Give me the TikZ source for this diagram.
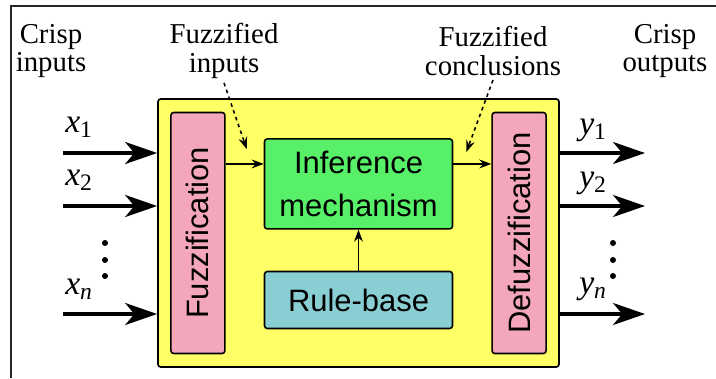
\documentclass[tikz,border=0pt]{standalone}
\usepackage{fontspec}
\setmainfont{Liberation Serif}
\setsansfont{Liberation Sans}
\usepackage{xcolor}
\usepackage{tikz}
\usetikzlibrary{arrows.meta, positioning, calc}

\definecolor{sysyellow}{RGB}{255,255,102}
\definecolor{fuzzpink}{RGB}{244,166,186}
\definecolor{infgreen}{RGB}{88,240,104}
\definecolor{ruleteal}{RGB}{136,206,210}

\begin{document}
\begin{tikzpicture}[
    x=0.25mm, y=-0.25mm,
    sysbox/.style={rectangle, draw, line width=1.2pt, rounded corners=2pt, fill=sysyellow,
                   minimum width=100.25mm, minimum height=67mm, inner sep=0pt},
    stagebox/.style={rectangle, draw, line width=1.1pt, rounded corners=2pt,
                     minimum width=13.5mm, minimum height=60.25mm, inner sep=0pt,
                     font=\sffamily\fontsize{22}{26}\selectfont},
    blockbox/.style={rectangle, draw, line width=1.1pt, rounded corners=2pt,
                     minimum width=47mm, inner sep=0pt, align=center,
                     font=\sffamily\fontsize{22}{30}\selectfont},
    label/.style={font=\fontsize{20.5}{20.5}\selectfont, align=center, inner sep=0pt},
    var/.style={font=\fontsize{24}{24}\selectfont, inner sep=0pt},
    bigarrow/.style={-{Stealth[length=8mm, width=5.5mm, inset=2.3mm]}, line width=2.3pt},
    arrow/.style={-{Stealth[length=3mm, width=2.2mm, inset=1mm]}, line width=1.1pt},
    dasharrow/.style={arrow, dash pattern=on 0.9mm off 0.9mm}
]
\useasboundingbox (0,0) rectangle (716,378);

% frame
\draw[line width=1.4pt, black!85] (11,378) -- (11,6) -- (716,6);

% blocks
\node[sysbox] (sys) at (358.5,233) {};
\node[stagebox, fill=fuzzpink, right=3.25mm of sys.west] (fuzz)
     {\rotatebox{90}{Fuzzification}};
\node[stagebox, fill=fuzzpink, left=3.25mm of sys.east] (defuzz)
     {\rotatebox{90}{Defuzzification}};
\node[blockbox, fill=infgreen, minimum height=22.5mm, below=10mm of sys.north] (infer)
     {Inference\\mechanism};
\node[blockbox, fill=ruleteal, minimum height=14.25mm, below=10.25mm of infer] (rule)
     {Rule-base};

% headings
\node[label] (cin)  at (51,51)  {Crisp\\inputs};
\node[label] (fin)  at (224,51) {Fuzzified\\inputs};
\node[label] (fcon) at (493,51) {Fuzzified\\conclusions};
\node[label] (cout) at (665,51) {Crisp\\outputs};

% crisp inputs
\coordinate (in1) at (63,153);
\coordinate (in2) at (63,206);
\coordinate (inn) at (63,314);
\draw[bigarrow] (in1) -- (in1 -| sys.west);
\draw[bigarrow] (in2) -- (in2 -| sys.west);
\draw[bigarrow] (inn) -- (inn -| sys.west);
\node[var] (x1) at (79,127) {\textit{x}\textsubscript{1}};
\node[var] (x2) at (79,180) {\textit{x}\textsubscript{2}};
\node[var] (xn) at (79,289) {\textit{x}\textsubscript{\textit{n}}};
\foreach \yy in {243,260,276} \fill (105,\yy) circle (3);

% crisp outputs
\coordinate (out1) at (645,153);
\coordinate (out2) at (645,206);
\coordinate (outn) at (645,314);
\draw[bigarrow] (out1 -| sys.east) -- (out1);
\draw[bigarrow] (out2 -| sys.east) -- (out2);
\draw[bigarrow] (outn -| sys.east) -- (outn);
\node[var] (y1) at (593,130) {\textit{y}\textsubscript{1}};
\node[var] (y2) at (593,183) {\textit{y}\textsubscript{2}};
\node[var] (yn) at (593,289) {\textit{y}\textsubscript{\textit{n}}};
\foreach \yy in {243,260,276} \fill (613,\yy) circle (3);

% internal flow
\coordinate (fi) at ([yshift=5mm]infer.west);
\coordinate (fo) at ([yshift=5mm]infer.east);
\draw[arrow] (fi -| fuzz.east) -- (fi);
\draw[arrow] (fo) -- (fo -| defuzz.west);
\draw[arrow] (rule) -- (infer);

% pointers from the headings
\coordinate (finend)  at ([xshift=-4.25mm, yshift=-2.75mm]infer.north west);
\coordinate (fconend) at ([xshift=3.25mm, yshift=-3.5mm]infer.north east);
\draw[dasharrow] ([yshift=-1mm]fin.south) -- (finend);
\draw[dasharrow] ([yshift=-1mm]fcon.south) -- (fconend);

\end{tikzpicture}
\end{document}
